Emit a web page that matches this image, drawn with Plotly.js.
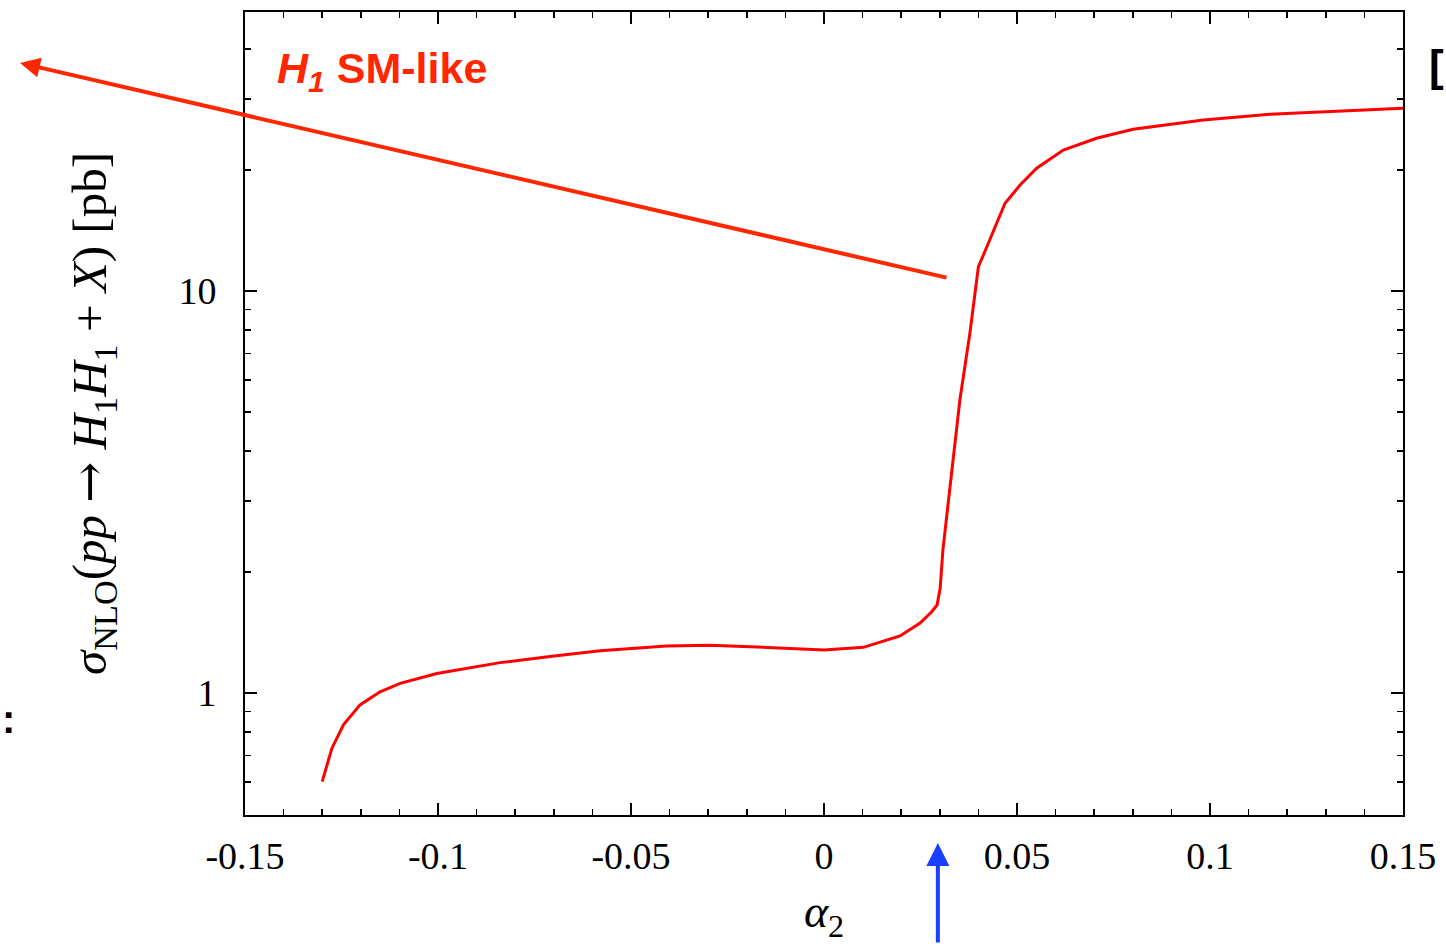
<!DOCTYPE html>
<html>
<head>
<meta charset="utf-8">
<script src="https://cdn.plot.ly/plotly-3.0.1.min.js"></script>
<style>html,body{margin:0;padding:0;background:#fff;}#chart{width:1446px;height:944px;}</style>
</head>
<body>
<div id="chart"></div>
<script>
// alpha_2 values and sigma_NLO(pp -> H1 H1 + X) in pb
const alpha2 = [-0.130, -0.1275, -0.1245, -0.1202, -0.115, -0.1098, -0.1003, -0.0839, -0.071, -0.058,
                -0.0408, -0.0295, -0.0192, 0.0, 0.0102, 0.0197, 0.0249, 0.0279, 0.0293, 0.0301,
                0.0308, 0.0352, 0.0378, 0.0391, 0.0400, 0.0413, 0.0469, 0.0508, 0.0551, 0.0620,
                0.0706, 0.0801, 0.0983, 0.1155, 0.1328, 0.150];
const sigma = [0.602, 0.728, 0.833, 0.934, 1.007, 1.057, 1.118, 1.19, 1.232, 1.274,
               1.309, 1.314, 1.304, 1.279, 1.299, 1.386, 1.493, 1.593, 1.655, 1.825,
               2.268, 5.356, 7.863, 9.772, 11.49, 12.29, 16.53, 18.35, 20.2, 22.42,
               23.98, 25.25, 26.64, 27.52, 28.04, 28.48];

const xTickVals = [-0.15, -0.1, -0.05, 0, 0.05, 0.1, 0.15];
const xTickText = ["-0.15", "-0.1", "-0.05", "0", "0.05", "0.1", "0.15"];
const yTickVals = [1, 10];
const yTickText = ["1", "10"];
const yMinorVals = [0.5, 0.6, 0.7, 0.8, 0.9, 2, 3, 4, 5, 6, 7, 8, 9, 20, 30, 40];

const trace = {
  x: alpha2, y: sigma, type: 'scatter', mode: 'lines',
  line: {color: '#ff0000', width: 3}, hoverinfo: 'skip', showlegend: false
};

const serif = 'Liberation Serif, Times New Roman, serif';
const axisCommon = {
  showline: true, linecolor: '#000', linewidth: 2, mirror: 'ticks',
  ticks: 'inside', ticklen: 12, tickwidth: 1.5, tickcolor: '#000',
  showgrid: false, zeroline: false,
  tickfont: {family: serif, size: 38, color: '#000'}
};

const layout = {
  width: 1446, height: 944,
  margin: {l: 245, r: 43, t: 12, b: 129},
  paper_bgcolor: '#fff', plot_bgcolor: '#fff',
  xaxis: Object.assign({}, axisCommon, {
    range: [-0.15, 0.15], tickmode: 'array', tickvals: xTickVals, ticktext: xTickText,
    ticklabelstandoff: 6,
    minor: {ticks: 'inside', ticklen: 6, tickwidth: 1.5, tickcolor: '#000', dtick: 0.01, tick0: 0, showgrid: false},
    title: {text: '<i>α</i><sub>2</sub>', font: {family: serif, size: 46, color: '#000'}, standoff: 40}
  }),
  yaxis: Object.assign({}, axisCommon, {
    type: 'log', range: [-0.3035, 1.694], tickmode: 'array', tickvals: yTickVals, ticktext: yTickText,
    ticklabelstandoff: 19,
    minor: {ticks: 'inside', ticklen: 6, tickwidth: 1.5, tickcolor: '#000', tickmode: 'array', tickvals: yMinorVals, showgrid: false},
    title: {text: '<i>σ</i><sub>NLO</sub>(<i>pp</i> <span style="font-family:DejaVu Serif">→</span> <i>H</i><sub>1</sub><i>H</i><sub>1</sub> + <i>X</i>) [pb]',
            font: {family: serif, size: 49, color: '#000'}, standoff: 56}
  }),
  annotations: [
    {xref: 'paper', yref: 'paper', x: (20 - 245) / 1158, y: (815 - 63) / 803,
     ax: 928, ay: 215, text: '', showarrow: true, arrowhead: 2, arrowsize: 1,
     arrowwidth: 4, arrowcolor: '#ff2600', standoff: 0, startstandoff: 0},
    {xref: 'x', yref: 'paper', x: 0.0295, y: (815 - 843) / 803,
     ax: 0, ay: 115, text: '', showarrow: true, arrowhead: 2, arrowsize: 1.15,
     arrowwidth: 4, arrowcolor: '#1a40ff', standoff: 0, startstandoff: 0},
    {xref: 'paper', yref: 'paper', x: (275 - 245) / 1158, y: (815 - 71) / 803,
     xanchor: 'left', yanchor: 'middle', showarrow: false,
     text: '<b><i>H<sub>1</sub></i> SM-like</b>',
     font: {family: 'Liberation Sans, Arial, sans-serif', size: 43, color: '#ff2600'}},
    {xref: 'paper', yref: 'paper', x: (0 - 245) / 1158, y: (815 - 719) / 803,
     xanchor: 'left', yanchor: 'middle', showarrow: false, text: '<b>:</b>',
     font: {family: 'Liberation Sans, Arial, sans-serif', size: 40, color: '#000'}},
    {xref: 'paper', yref: 'paper', x: (1446 - 245) / 1158, y: (815 - 65) / 803,
     xanchor: 'right', yanchor: 'middle', showarrow: false, text: '<b>[</b>',
     font: {family: 'Liberation Sans, Arial, sans-serif', size: 44, color: '#000'}}
  ]
};

Plotly.newPlot('chart', [trace], layout, {staticPlot: true, displayModeBar: false});
</script>
</body>
</html>
